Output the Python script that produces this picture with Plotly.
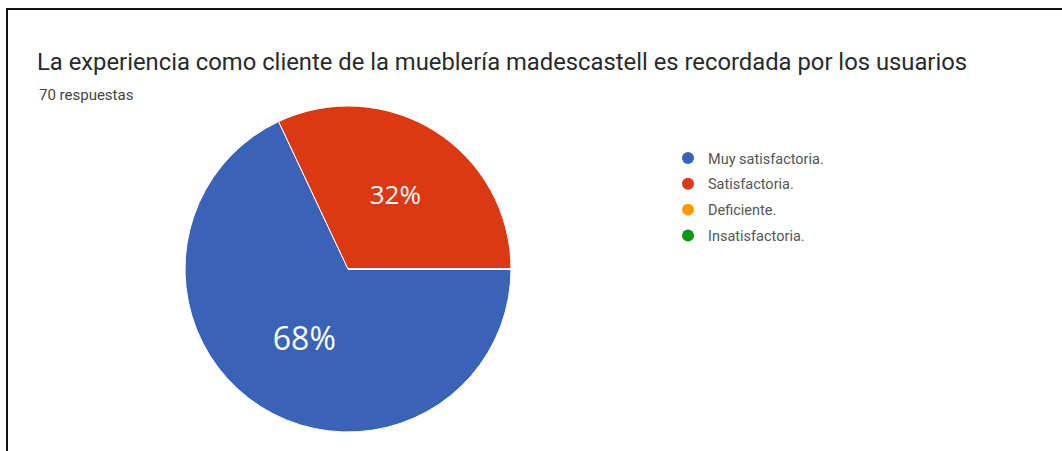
import plotly.graph_objects as go

W, H = 1062, 451

# Survey answers (share of responses, %)
categories = ["Muy satisfactoria.", "Satisfactoria.", "Deficiente.", "Insatisfactoria."]
shares = [68, 32, 0, 0]
colors = ["#3a63b8", "#dc3912", "#ff9900", "#109618"]
label_sizes = [32, 26, 26, 26]

title_text = "La experiencia como cliente de la mueblería madescastell es recordada por los usuarios"
subtitle_text = "70 respuestas"


def px(x):
    return x / W


def py(y):
    return 1 - y / H


fig = go.Figure()

fig.add_trace(go.Pie(
    labels=categories,
    values=shares,
    sort=False,
    direction="clockwise",
    rotation=90,
    marker=dict(colors=colors, line=dict(color="white", width=1)),
    texttemplate="%{value}%",
    textposition="inside",
    insidetextorientation="horizontal",
    textfont=dict(family="Open Sans", size=label_sizes, color="white"),
    showlegend=False,
    hoverinfo="label+percent",
    domain=dict(x=[px(185), px(511)], y=[py(432), py(106)]),
))

# Legend entries drawn with round markers
for i, (name, col) in enumerate(zip(categories, colors)):
    fig.add_trace(go.Scatter(
        x=[None], y=[None], mode="markers", name=name,
        marker=dict(symbol="circle", size=12, color=col),
        legendgroup=f"g{i}", showlegend=True,
    ))

fig.update_layout(
    width=W, height=H,
    margin=dict(l=0, r=0, t=0, b=0),
    paper_bgcolor="white",
    plot_bgcolor="white",
    xaxis=dict(visible=False),
    yaxis=dict(visible=False),
    title=dict(
        text=title_text,
        x=px(37), xanchor="left", xref="paper",
        y=py(62), yanchor="middle", yref="paper",
        font=dict(family="Roboto", size=23.8, color="#2a2a2a"),
    ),
    legend=dict(
        x=px(668), y=py(142), xanchor="left", yanchor="top",
        font=dict(family="Roboto", size=14.5, color="#555555"),
        tracegroupgap=4,
        itemsizing="constant",
        itemwidth=30,
        bgcolor="rgba(0,0,0,0)",
    ),
    annotations=[dict(
        text=subtitle_text, x=px(37), y=py(95), xref="paper", yref="paper",
        xanchor="left", yanchor="middle", showarrow=False,
        font=dict(family="Roboto", size=15, color="#444444"),
    )],
    shapes=[
        dict(type="line", xref="paper", yref="paper",
             x0=px(6), x1=1, y0=py(9), y1=py(9),
             line=dict(color="#111111", width=2)),
        dict(type="line", xref="paper", yref="paper",
             x0=px(7), x1=px(7), y0=py(8), y1=0,
             line=dict(color="#111111", width=2)),
    ],
)

fig.write_html("out.html")
